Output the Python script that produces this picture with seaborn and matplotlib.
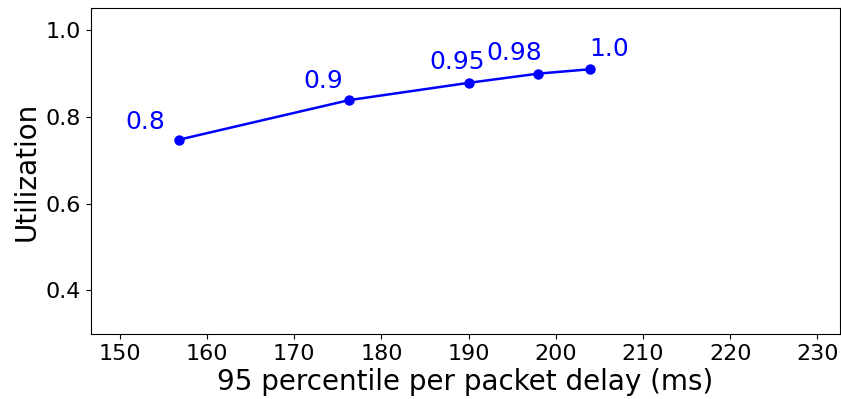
import matplotlib
matplotlib.use("Agg")
import matplotlib.pyplot as plt
import seaborn as sns
import pandas as pd

delay = [156.8, 176.3, 190.1, 198.0, 203.9]
util = [0.747, 0.838, 0.878, 0.899, 0.909]
labels = ["0.8", "0.9", "0.95", "0.98", "1.0"]
offsets = [(-34, 18), (-26, 19), (-12, 21), (-24, 21), (19, 20)]

sns.set_style("ticks")
plt.rcParams['font.family'] = ['DejaVu Sans']
for k in ["text.color", "axes.labelcolor", "xtick.color", "ytick.color", "axes.edgecolor"]:
    plt.rcParams[k] = "black"

df = pd.DataFrame({"delay": delay, "util": util})
fig, ax = plt.subplots(figsize=(8.41, 3.99), dpi=100)
sns.lineplot(data=df, x="delay", y="util", color="blue", marker="o",
             markersize=7.5, markeredgewidth=0, linewidth=1.8, ax=ax)
for x, y, lab, (dx, dy) in zip(delay, util, labels, offsets):
    ax.annotate(lab, (x, y), xytext=(dx, dy), textcoords="offset pixels",
                ha="center", va="center", color="blue", fontsize=18)

ax.set_xlim(146.7, 232.6)
ax.set_ylim(0.3, 1.05)
ax.set_xticks(range(150, 231, 10))
ax.set_yticks([0.4, 0.6, 0.8, 1.0])
ax.set_xlabel("95 percentile per packet delay (ms)", fontsize=20, labelpad=3)
ax.set_ylabel("Utilization", fontsize=20, labelpad=4)
ax.tick_params(labelsize=16, color="black", labelcolor="black")
for s in ax.spines.values():
    s.set_visible(True)
    s.set_color("black")
fig.subplots_adjust(left=0.108, right=0.999, top=0.98, bottom=0.163)
fig.savefig("out.png", dpi=100)
